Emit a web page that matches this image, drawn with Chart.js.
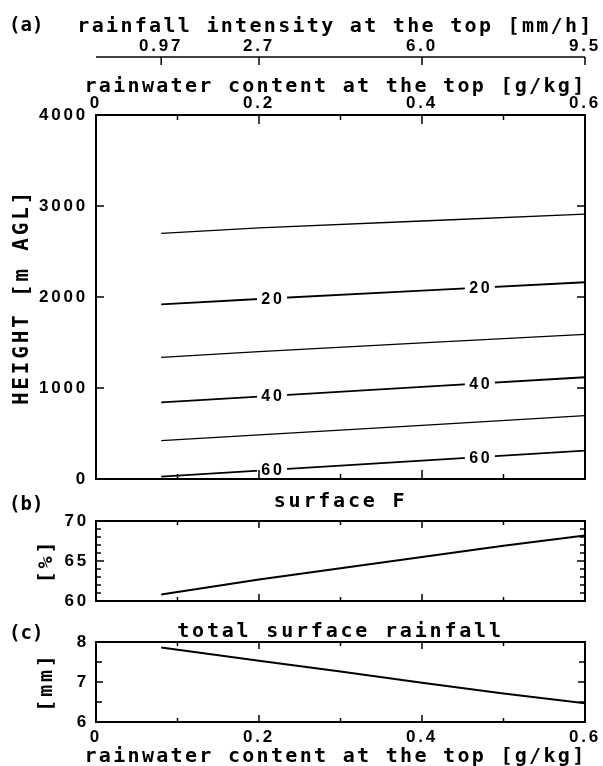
<!DOCTYPE html>
<html>
<head>
<meta charset="utf-8">
<script src="https://cdn.jsdelivr.net/npm/chart.js@4.4.1/dist/chart.umd.min.js"></script>
<style>
  body { margin: 0; background: #fff; width: 603px; height: 766px; position: relative; overflow: hidden; }
  canvas { position: absolute; left: 0; }
  .tag { position: absolute; left: 9px; font: bold 19px "DejaVu Sans Mono", monospace; line-height: 1; color: #000; }
</style>
</head>
<body>
<canvas id="chartA" width="603" height="490" style="top:0"></canvas>
<canvas id="chartB" width="603" height="130" style="top:490px"></canvas>
<canvas id="chartC" width="603" height="146" style="top:620px"></canvas>
<div class="tag" style="top:15px">(a)</div>
<div class="tag" style="top:494px">(b)</div>
<div class="tag" style="top:623px">(c)</div>
<script>
// ── Data ───────────────────────────────────
// rainwater content at the top [g/kg]
var rainX = [0.08, 0.2, 0.4, 0.6];
var rainTickPos = [0, 0.2, 0.4, 0.6];
var rainTickLabels = ['0', '0.2', '0.4', '0.6'];

// rainfall intensity axis (same positions as rainwater content)
var intensityPos = [0.08, 0.2, 0.4, 0.6];
var intensityLabels = ['0.97', '2.7', '6.0', '9.5'];

// contour heights [m AGL] of F at rainX
var contourLevels = [10, 20, 30, 40, 50, 60];
var contour10 = [2700, 2760, 2835, 2910];
var contour20 = [1920, 1978, 2070, 2162];
var contour30 = [1337, 1400, 1496, 1590];
var contour40 = [843, 905, 1012, 1118];
var contour50 = [421, 484, 590, 696];
var contour60 = [25, 92, 202, 311];
var labelledLevels = [20, 40, 60];
var contourLabelX = [0.216, 0.471];

// panels (b) and (c)
var lineX = [0.08, 0.2, 0.3, 0.4, 0.5, 0.6];
var surfaceF = [60.8, 62.7, 64.1, 65.5, 66.9, 68.2];
var totalRain = [7.86, 7.53, 7.26, 6.98, 6.71, 6.47];

// inward frame ticks
var xMajor = [0.2, 0.4];
var xMinor = [0.1, 0.3, 0.5];
var aYMajor = [1000, 2000, 3000];
var bYMajor = [65];
var bYMinor = [61, 62, 63, 64, 66, 67, 68, 69];
var cYMajor = [7];
var cYMinor = [6.5, 7.5];

// ── Styles ─────────────────────────────────
var TICK_FONT = { family: 'Liberation Sans', size: 17, weight: 'bold' };
var TITLE_FONT = { family: 'DejaVu Sans Mono', size: 20, weight: 'bold' };
var TITLE_FONT_TIGHT = { family: 'DejaVu Sans Mono', size: 20, weight: 'bold', lineHeight: 1 };
var TITLE_CSS = 'bold 20px "DejaVu Sans Mono"';
var BLACK = '#000';

Chart.defaults.color = BLACK;
Chart.defaults.animation = false;

// ── Helpers ────────────────────────────────
function pts(xs, ys) {
  return xs.map(function(x, i) { return { x: x, y: ys[i] }; });
}

function valueAt(xs, ys, x) {
  for (var i = 0; i < xs.length - 1; i++) {
    if (x >= xs[i] && x <= xs[i + 1]) {
      var t = (x - xs[i]) / (xs[i + 1] - xs[i]);
      return ys[i] + t * (ys[i + 1] - ys[i]);
    }
  }
  return ys[ys.length - 1];
}

// fixed axis sizes, and no extra room for overhanging labels
function fixWidth(w) {
  return function(s) { s.width = w; s.paddingTop = 0; s.paddingBottom = 0; };
}
function fixHeight(h) {
  return function(s) { s.height = h; s.paddingLeft = 0; s.paddingRight = 0; };
}

function lineSet(xs, ys, width) {
  return {
    data: pts(xs, ys), borderColor: BLACK, borderWidth: width,
    pointRadius: 0, tension: 0, fill: false
  };
}

// ── Plugins ────────────────────────────────
var spacing = {
  id: 'spacing',
  beforeDraw: function(chart) { chart.ctx.letterSpacing = '2.8px'; }
};

// long axis titles are wider than the plot, Chart.js would squeeze them
var wideTitles = {
  id: 'wideTitles',
  afterDraw: function(chart, args, o) {
    var ctx = chart.ctx;
    ctx.save();
    ctx.font = TITLE_CSS;
    ctx.letterSpacing = '2.3px';
    ctx.fillStyle = BLACK;
    ctx.textAlign = 'center';
    ctx.textBaseline = 'middle';
    (o.items || []).forEach(function(it) {
      var s = chart.scales[it.scale];
      var y = it.edge === 'top' ? s.top + it.offset : s.bottom - it.offset;
      ctx.fillText(it.text, (s.left + s.right) / 2 - 5, y);
    });
    ctx.restore();
  }
};

// frame box, inward ticks, and the detached intensity axis
var frame = {
  id: 'frame',
  afterDraw: function(chart, args, o) {
    var ctx = chart.ctx, a = chart.chartArea;
    var xs = chart.scales.x, ys = chart.scales.y;
    ctx.save();
    ctx.strokeStyle = BLACK;
    ctx.lineWidth = 1.5;
    ctx.beginPath();
    function xt(list, len) {
      (list || []).forEach(function(v) {
        var px = xs.getPixelForValue(v);
        ctx.moveTo(px, a.top); ctx.lineTo(px, a.top + len);
        ctx.moveTo(px, a.bottom); ctx.lineTo(px, a.bottom - len);
      });
    }
    function yt(list, len) {
      (list || []).forEach(function(v) {
        var py = ys.getPixelForValue(v);
        ctx.moveTo(a.left, py); ctx.lineTo(a.left + len, py);
        ctx.moveTo(a.right, py); ctx.lineTo(a.right - len, py);
      });
    }
    xt(o.xMajor, o.xMajorLen || 8);
    xt(o.xMinor, o.xMinorLen || 4);
    yt(o.yMajor, o.yMajorLen || 8);
    yt(o.yMinor, o.yMinorLen || 5);
    var top = chart.scales.x2;
    if (top) {
      ctx.moveTo(a.left, top.bottom); ctx.lineTo(a.right, top.bottom);
      intensityPos.forEach(function(v) {
        var px = top.getPixelForValue(v);
        ctx.moveTo(px, top.bottom); ctx.lineTo(px, top.bottom + 8);
      });
    }
    ctx.stroke();
    ctx.lineWidth = 2;
    ctx.strokeRect(a.left, a.top, a.right - a.left, a.bottom - a.top);
    ctx.restore();
  }
};

// inline contour labels with a gap in the line
var contourLabels = {
  id: 'contourLabels',
  afterDatasetsDraw: function(chart) {
    var ctx = chart.ctx, xs = chart.scales.x, ys = chart.scales.y;
    ctx.save();
    ctx.font = 'bold 16px "Liberation Sans"';
    ctx.textAlign = 'center';
    ctx.textBaseline = 'middle';
    labelledLevels.forEach(function(lev) {
      var k = contourLevels.indexOf(lev);
      var ds = chart.data.datasets[k];
      var hs = ds.data.map(function(p) { return p.y; });
      contourLabelX.forEach(function(lx) {
        var px = xs.getPixelForValue(lx);
        var py = ys.getPixelForValue(valueAt(rainX, hs, lx));
        ctx.fillStyle = '#fff';
        ctx.fillRect(px - 15, py - 8, 30, 16);
        ctx.fillStyle = BLACK;
        ctx.fillText(String(lev), px + 1, py + 1);
      });
    });
    ctx.restore();
  }
};

// ── Panel (a) ──────────────────────────────
var contourData = [contour10, contour20, contour30, contour40, contour50, contour60];

new Chart(document.getElementById('chartA'), {
  type: 'line',
  data: {
    datasets: contourData.map(function(h, i) {
      return lineSet(rainX, h, labelledLevels.indexOf(contourLevels[i]) >= 0 ? 1.8 : 1.3);
    })
  },
  options: {
    responsive: false,
    layout: { padding: { top: 0, left: 0, right: 18, bottom: 11 } },
    plugins: {
      legend: { display: false },
      tooltip: { enabled: false },
      frame: { xMajor: xMajor, xMinor: xMinor, xMajorLen: 9, xMinorLen: 5, yMajor: aYMajor, yMajorLen: 8 },
      wideTitles: { items: [
        { scale: 'x2', edge: 'top', offset: 27, text: 'rainfall intensity at the top [mm/h]' },
        { scale: 'x', edge: 'top', offset: 30, text: 'rainwater content at the top [g/kg]' }
      ] }
    },
    scales: {
      x: {
        type: 'linear', position: 'top', min: 0, max: 0.6, weight: 0,
        afterBuildTicks: function(s) { s.ticks = rainTickPos.map(function(v) { return { value: v }; }); },
        afterFit: fixHeight(58),
        ticks: { font: TICK_FONT, padding: 1, maxRotation: 0, autoSkip: false,
                 callback: function(v, i) { return rainTickLabels[i]; } },
        grid: { display: false, drawTicks: false },
        border: { display: false }
      },
      x2: {
        type: 'linear', position: 'top', min: 0, max: 0.6, weight: 1,
        afterBuildTicks: function(s) { s.ticks = intensityPos.map(function(v) { return { value: v }; }); },
        afterFit: fixHeight(57),
        ticks: { font: TICK_FONT, padding: 0, maxRotation: 0, autoSkip: false,
                 callback: function(v, i) { return intensityLabels[i]; } },
        grid: { display: false, drawTicks: false },
        border: { display: false }
      },
      y: {
        type: 'linear', min: 0, max: 4000,
        afterFit: fixWidth(96),
        ticks: { font: TICK_FONT, padding: 8, stepSize: 1000, callback: function(v) { return String(v); } },
        grid: { display: false, drawTicks: false },
        border: { display: false },
        title: { display: true, text: 'HEIGHT [m AGL]', font: { family: 'DejaVu Sans Mono', size: 21, weight: 'bold' }, padding: { top: 10, bottom: 0 } }
      }
    }
  },
  plugins: [spacing, contourLabels, frame, wideTitles]
});

// ── Panel (b) ──────────────────────────────
new Chart(document.getElementById('chartB'), {
  type: 'line',
  data: { datasets: [lineSet(lineX, surfaceF, 2)] },
  options: {
    responsive: false,
    layout: { padding: { top: 0, left: 0, right: 18, bottom: 19 } },
    plugins: {
      legend: { display: false },
      tooltip: { enabled: false },
      frame: { xMajor: xMajor, xMinor: xMinor, xMajorLen: 7, xMinorLen: 4, yMajor: bYMajor, yMinor: bYMinor, yMajorLen: 8, yMinorLen: 5 }
    },
    scales: {
      x: {
        type: 'linear', position: 'top', min: 0, max: 0.6,
        afterFit: fixHeight(31),
        ticks: { display: false },
        grid: { display: false, drawTicks: false },
        border: { display: false },
        title: { display: true, text: 'surface F', font: TITLE_FONT_TIGHT, padding: { top: 2, bottom: 0 } }
      },
      y: {
        type: 'linear', min: 60, max: 70,
        afterFit: fixWidth(96),
        ticks: { font: TICK_FONT, padding: 7, stepSize: 5, callback: function(v) { return String(v); } },
        grid: { display: false, drawTicks: false },
        border: { display: false },
        title: { display: true, text: '[%]', font: TITLE_FONT, padding: { top: 35, bottom: 0 } }
      }
    }
  },
  plugins: [spacing, frame]
});

// ── Panel (c) ──────────────────────────────
new Chart(document.getElementById('chartC'), {
  type: 'line',
  data: { datasets: [lineSet(lineX, totalRain, 2)] },
  options: {
    responsive: false,
    layout: { padding: { top: 0, left: 0, right: 18, bottom: 0 } },
    plugins: {
      legend: { display: false },
      tooltip: { enabled: false },
      frame: { xMajor: xMajor, xMinor: xMinor, xMajorLen: 7, xMinorLen: 4, yMajor: cYMajor, yMinor: cYMinor, yMajorLen: 7, yMinorLen: 6 },
      wideTitles: { items: [
        { scale: 'x', edge: 'bottom', offset: 9, text: 'rainwater content at the top [g/kg]' }
      ] }
    },
    scales: {
      x: {
        type: 'linear', position: 'bottom', min: 0, max: 0.6,
        afterBuildTicks: function(s) { s.ticks = rainTickPos.map(function(v) { return { value: v }; }); },
        afterFit: fixHeight(44),
        ticks: { font: TICK_FONT, padding: 5, maxRotation: 0, autoSkip: false,
                 callback: function(v, i) { return rainTickLabels[i]; } },
        grid: { display: false, drawTicks: false },
        border: { display: false }
      },
      xt: {
        type: 'linear', position: 'top', min: 0, max: 0.6,
        afterFit: fixHeight(22),
        ticks: { display: false },
        grid: { display: false, drawTicks: false },
        border: { display: false },
        title: { display: true, text: 'total surface rainfall', font: TITLE_FONT_TIGHT, padding: { top: 2, bottom: 0 } }
      },
      y: {
        type: 'linear', min: 6, max: 8,
        afterFit: fixWidth(96),
        ticks: { font: TICK_FONT, padding: 7, stepSize: 1, callback: function(v) { return String(v); } },
        grid: { display: false, drawTicks: false },
        border: { display: false },
        title: { display: true, text: '[mm]', font: TITLE_FONT, padding: { top: 35, bottom: 0 } }
      }
    }
  },
  plugins: [spacing, frame, wideTitles]
});
</script>
</body>
</html>
